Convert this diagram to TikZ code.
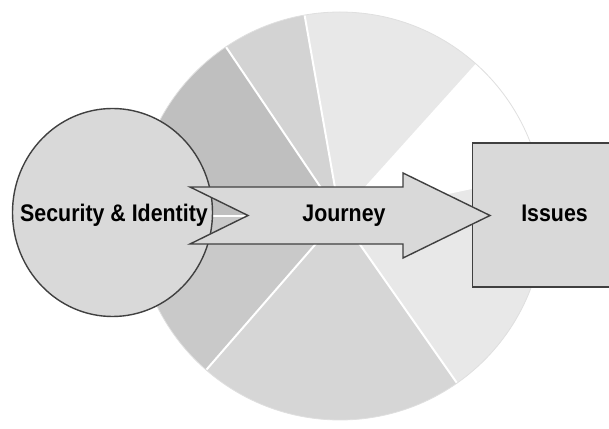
\documentclass[tikz,border=0pt]{standalone}
\usepackage{fontspec}
\setmainfont{Liberation Sans}
\usetikzlibrary{shapes.geometric}

\definecolor{edgegray}{HTML}{404040}
\definecolor{shapegray}{HTML}{D9D9D9}
\definecolor{sliceA}{HTML}{BFBFBF}
\definecolor{sliceB}{HTML}{D3D3D3}
\definecolor{sliceC}{HTML}{E8E8E8}
\definecolor{sliceD}{HTML}{FFFFFF}
\definecolor{sliceE}{HTML}{E8E8E8}
\definecolor{sliceF}{HTML}{D6D6D6}
\definecolor{sliceG}{HTML}{C9C9C9}

% pie wedge: start angle, end angle, fill colour
\newcommand\pieslice[3]{%
  \fill[#3] (pc) -- ++(#1:204) arc[start angle=#1, end angle=#2, radius=204] -- cycle;}
\newcommand\lbltext[1]{\scalebox{0.89}[1]{#1}}

\begin{document}
\begin{tikzpicture}[x=1pt, y=1pt,
  outline/.style={draw=edgegray, line width=1.4pt, fill=shapegray, line join=miter},
  lbl/.style={font=\bfseries\fontsize{24}{28}\selectfont, text=black, inner sep=0pt, anchor=base}]
\useasboundingbox (0,0) rectangle (609,428);

% background pie
\coordinate (pc) at (340,212);
\pieslice{124}{180}{sliceA}
\pieslice{100}{124}{sliceB}
\pieslice{48}{100}{sliceC}
\pieslice{12}{48}{sliceD}
\pieslice{-55}{12}{sliceE}
\pieslice{-131}{-55}{sliceF}
\pieslice{180}{229}{sliceG}
\foreach \a in {124,100,48,12,-55,-131,180}
  \draw[white, line width=2pt] (pc) -- ++(\a:204);
\draw[gray!25, line width=0.8pt] (pc) circle[radius=204];

% target box and source circle
\node (issues) [outline, rectangle, anchor=west, minimum width=150, minimum height=144] at (472,213) {};
\node (sec) [outline, ellipse, minimum width=200, minimum height=208] at (112.5,215.5) {};

% notched arrow
\draw[outline] (190,241) -- (248,212.5) -- (190,184) -- (403,184) -- (403,170)
  -- (490,212.5) -- (403,255) -- (403,241) -- cycle;

% labels
\node[lbl] (lsec) at (114,206.5) {\lbltext{Security \& Identity}};
\node[lbl] (ljour) at (344,206.5) {\lbltext{Journey}};
\node[lbl] (liss) at (554.5,206.5) {\lbltext{Issues}};
\end{tikzpicture}
\end{document}
